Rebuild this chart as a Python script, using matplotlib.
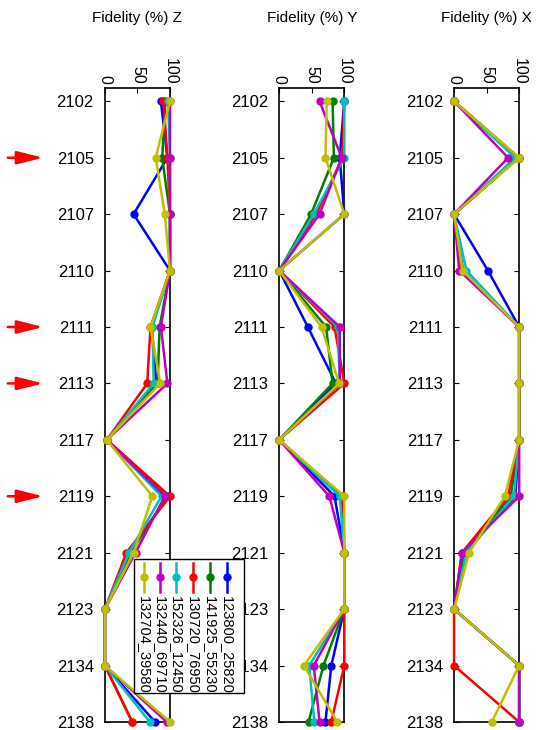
import numpy as np
import matplotlib.pyplot as plt
from matplotlib.lines import Line2D
from matplotlib.patches import Rectangle

plt.rcParams['font.family'] = ['Liberation Sans', 'DejaVu Sans']

# kategoriler (yukaridan asagi)
labels = ['2102', '2105', '2107', '2110', '2111', '2113',
          '2117', '2119', '2121', '2123', '2134', '2138']

series = ['123800_25820', '141925_55230', '130720_76950',
          '152326_12450', '132440_69710', '132704_39580']
colors = ['b', 'g', 'r', 'c', 'm', 'y']

# Fidelity Z
z_vals = [
    [86, 96, 44, 100, 72, 79, 3, 97, 37, 0, 0, 77],
    [93, 88, 100, 100, 84, 81, 3, 95, 40, 0, 0, 42],
    [90, 96, 100, 100, 70, 65, 3, 100, 33, 0, 0, 42],
    [97, 100, 100, 100, 73, 75, 3, 87, 37, 0, 0, 69],
    [100, 100, 100, 100, 86, 96, 3, 92, 47, 0, 0, 95],
    [100, 78, 92, 100, 70, 85, 3, 73, 44, 0, 0, 100],
]

# Fidelity Y
y_vals = [
    [100, 93, 100, 0, 44, 87, 0, 85, 100, 100, 80, 71],
    [82, 84, 49, 0, 72, 82, 0, 95, 100, 100, 68, 45],
    [100, 97, 57, 0, 85, 100, 0, 98, 100, 100, 100, 80],
    [100, 100, 53, 0, 90, 93, 0, 93, 100, 100, 46, 54],
    [62, 96, 62, 0, 93, 93, 0, 77, 100, 100, 53, 62],
    [73, 71, 100, 0, 65, 92, 0, 100, 100, 100, 38, 89],
]

# Fidelity X
x_vals = [
    [0, 99, 0, 52, 100, 100, 100, 94, 13, 0, 100, 100],
    [0, 99, 0, 14, 100, 100, 100, 87, 17, 0, 100, 100],
    [0, 99, 0, 12, 100, 100, 100, 83, 12, 0, 0, 100],
    [0, 94, 0, 19, 100, 100, 100, 92, 19, 0, 100, 100],
    [0, 83, 0, 8, 100, 100, 100, 100, 12, 0, 100, 100],
    [0, 100, 0, 13, 100, 100, 100, 78, 23, 0, 100, 58],
]

# oklarin gosterdigi satirlar
arrow_rows = ['2105', '2111', '2113', '2119']

panels = [('Fidelity (%) Z', z_vals), ('Fidelity (%) Y', y_vals), ('Fidelity (%) X', x_vals)]
lefts = [0.195, 0.519, 0.844]
w = 0.121
bottom = 0.011
h = 0.868

pos = np.arange(len(labels))

fig = plt.figure(figsize=(5.38, 7.3), dpi=100)

axes = []
for i, (title, vals) in enumerate(panels):
    ax = fig.add_axes([lefts[i], bottom, w, h])
    for k in range(len(series)):
        ax.plot(vals[k], pos, '-o', color=colors[k], lw=1.8, ms=5, clip_on=False, zorder=3)
    ax.set_xlim(0, 100)
    ax.set_ylim(len(labels) - 1, -0.23)
    ax.set_yticks(pos)
    ax.set_yticklabels(labels)
    ax.set_xticks([0, 50, 100])
    ax.xaxis.tick_top()
    ax.tick_params(axis='x', direction='in', labelrotation=-90, labelsize=11.5, pad=3)
    ax.tick_params(axis='y', direction='in', right=True, labelsize=12, pad=8)
    for sp in ax.spines.values():
        sp.set_linewidth(1.2)
    fig.text(lefts[i] + w / 2, 1 - 18 / 730, title, ha='center', va='center', fontsize=11)
    axes.append(ax)

# dondurulmus legend (elle cizildi)
W, H = 538.0, 730.0
fig.add_artist(Rectangle((134 / W, 1 - 693 / H), 110 / W, 134 / H, transform=fig.transFigure,
                         facecolor='white', edgecolor='black', lw=1.0, zorder=10))
col_x = [227, 210, 193, 176, 160, 144]
for k in range(len(series)):
    xx = col_x[k] / W
    fig.add_artist(Line2D([xx, xx], [1 - 563 / H, 1 - 592 / H], color=colors[k], lw=1.8,
                          transform=fig.transFigure, zorder=11))
    fig.add_artist(Line2D([xx], [1 - 577 / H], marker='o', ms=5, color=colors[k],
                          transform=fig.transFigure, zorder=12))
    fig.text(xx, 1 - 596 / H, series[k], rotation=-90, ha='center', va='top', fontsize=10.5, zorder=12)

# kirmizi oklar
ax0 = axes[0]
for r in arrow_rows:
    yy = labels.index(r)
    ax0.annotate('', xy=(46 / W, yy), xycoords=('figure fraction', 'data'),
                 xytext=(5 / W, yy), textcoords=('figure fraction', 'data'),
                 arrowprops=dict(arrowstyle='-|>,head_length=1.6,head_width=0.4', color='red', lw=1.8),
                 annotation_clip=False)

fig.savefig('out.png', dpi=100)
